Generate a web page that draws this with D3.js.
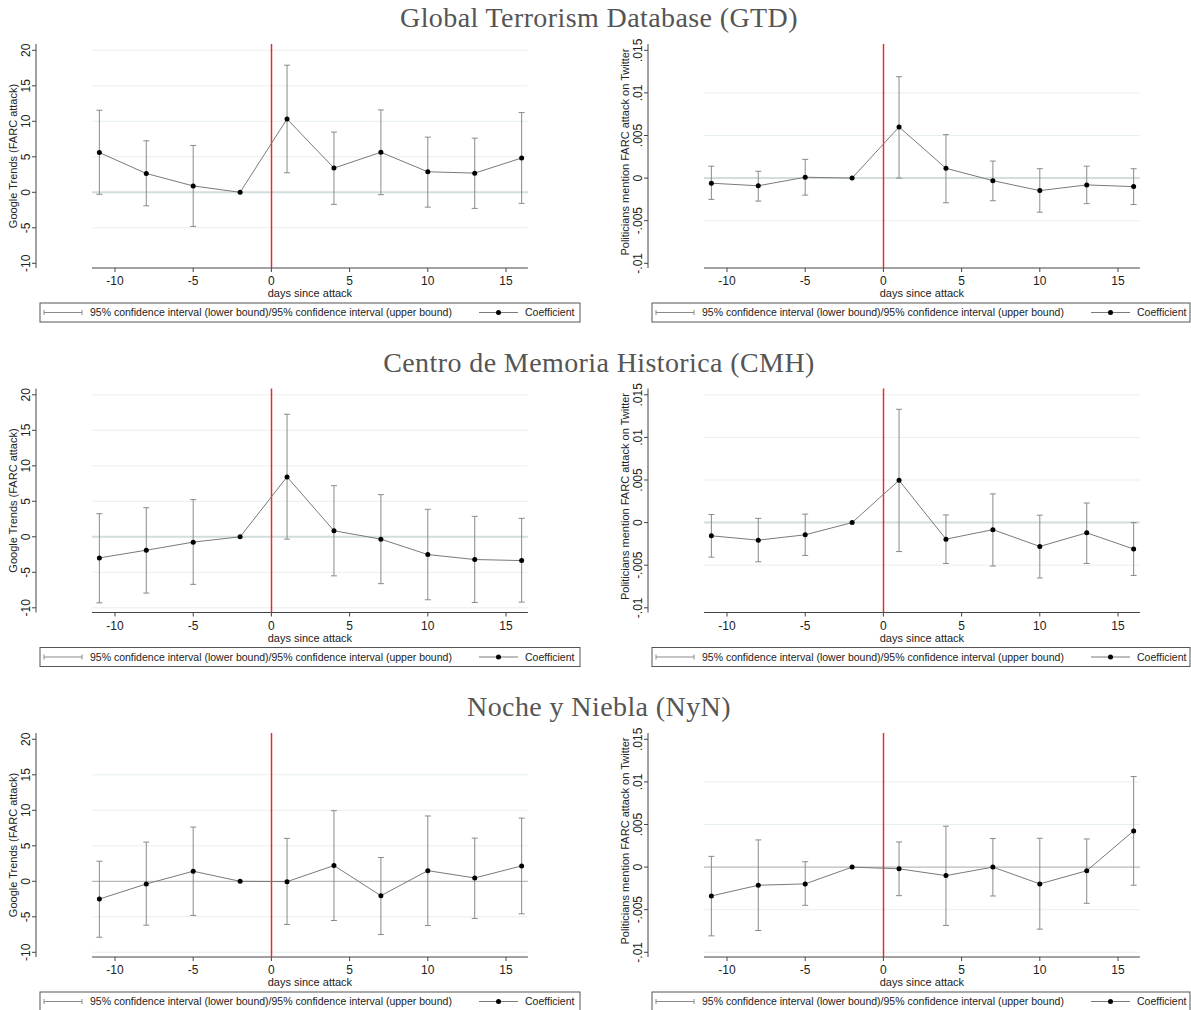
<html>
<head>
  <script src="https://d3js.org/d3.v7.min.js"></script>
  <style>
    body { margin: 0; background: white; }
    text { font-family: "Liberation Sans", Arial, sans-serif; fill: #222; }
    .rowtitle { font-family: "Liberation Serif", "DejaVu Serif", serif; fill: #555; }
  </style>
</head>
<body>
<svg id="fig" width="1191" height="1010"></svg>
<script>
// ---- data ----
const days = [-11, -8, -5, -2, 1, 4, 7, 10, 13, 16];
const rowTitles = ["Global Terrorism Database (GTD)", "Centro de Memoria Historica (CMH)", "Noche y Niebla (NyN)"];

const googleTicks = [-10, -5, 0, 5, 10, 15, 20];
const googleLabels = ["-10", "-5", "0", "5", "10", "15", "20"];
const twitterTicks = [-0.01, -0.005, 0, 0.005, 0.01, 0.015];
const twitterLabels = ["-.01", "-.005", "0", ".005", ".01", ".015"];
const xTicks = [-10, -5, 0, 5, 10, 15];

// GTD
const gtdGoogleCoef = [5.6, 2.65, 0.9, 0, 10.33, 3.41, 5.64, 2.89, 2.7, 4.83];
const gtdGoogleLo   = [-0.28, -1.9, -4.8, 0, 2.75, -1.7, -0.33, -2.09, -2.27, -1.56];
const gtdGoogleHi   = [11.56, 7.25, 6.6, 0, 17.9, 8.48, 11.6, 7.77, 7.63, 11.23];
const gtdTwitterCoef = [-0.0006, -0.0009, 0.0001, 0, 0.006, 0.00115, -0.0003, -0.00147, -0.0008, -0.001];
const gtdTwitterLo   = [-0.0025, -0.0027, -0.002, 0, 0.0, -0.0029, -0.00266, -0.004, -0.003, -0.0031];
const gtdTwitterHi   = [0.0014, 0.0008, 0.0022, 0, 0.0119, 0.0051, 0.002, 0.0011, 0.0014, 0.0011];

// CMH
const cmhGoogleCoef = [-2.97, -1.89, -0.75, 0, 8.44, 0.85, -0.33, -2.5, -3.2, -3.35];
const cmhGoogleLo   = [-9.3, -7.92, -6.7, 0, -0.33, -5.5, -6.6, -8.87, -9.25, -9.2];
const cmhGoogleHi   = [3.25, 4.1, 5.24, 0, 17.26, 7.2, 5.94, 3.87, 2.88, 2.6];
const cmhTwitterCoef = [-0.00155, -0.00206, -0.00143, 0, 0.00496, -0.00194, -0.00083, -0.0028, -0.0012, -0.0031];
const cmhTwitterLo   = [-0.00405, -0.0046, -0.00385, 0, -0.0034, -0.0048, -0.0051, -0.0065, -0.0048, -0.0062];
const cmhTwitterHi   = [0.00095, 0.0005, 0.001, 0, 0.0133, 0.0009, 0.00337, 0.00087, 0.0023, 0.0];

// NyN
const nynGoogleCoef = [-2.5, -0.38, 1.42, 0, -0.05, 2.22, -2.03, 1.5, 0.47, 2.17];
const nynGoogleLo   = [-7.88, -6.18, -4.81, 0, -6.08, -5.52, -7.5, -6.23, -5.24, -4.58];
const nynGoogleHi   = [2.83, 5.52, 7.64, 0, 6.04, 9.95, 3.35, 9.2, 6.08, 8.9];
const nynTwitterCoef = [-0.00339, -0.00213, -0.00197, 0, -0.0002, -0.001, 0, -0.00197, -0.00043, 0.00425];
const nynTwitterLo   = [-0.00807, -0.00744, -0.00449, 0, -0.00335, -0.00685, -0.00339, -0.00728, -0.00425, -0.00213];
const nynTwitterHi   = [0.00126, 0.00319, 0.00063, 0, 0.00295, 0.0048, 0.00335, 0.00339, 0.0033, 0.01063];

const panels = [
  {row: 0, col: 0, coef: gtdGoogleCoef, lo: gtdGoogleLo, hi: gtdGoogleHi, grid: [20, 15, 10, 5, -5]},
  {row: 0, col: 1, coef: gtdTwitterCoef, lo: gtdTwitterLo, hi: gtdTwitterHi, grid: [0.01, 0.005, -0.005]},
  {row: 1, col: 0, coef: cmhGoogleCoef, lo: cmhGoogleLo, hi: cmhGoogleHi, grid: [20, 15, 10, 5, -5, -10]},
  {row: 1, col: 1, coef: cmhTwitterCoef, lo: cmhTwitterLo, hi: cmhTwitterHi, grid: [0.015, 0.01, 0.005, -0.005]},
  {row: 2, col: 0, coef: nynGoogleCoef, lo: nynGoogleLo, hi: nynGoogleHi, grid: [15, 10, 5, -5, -10]},
  {row: 2, col: 1, coef: nynTwitterCoef, lo: nynTwitterLo, hi: nynTwitterHi, grid: [0.01, 0.005, -0.005, -0.01]}
];

const svg = d3.select("#fig");
const rowStep = 344.5;
const colStep = 612;

rowTitles.forEach((t, i) => {
  svg.append("text")
     .attr("class", "rowtitle")
     .attr("x", 599)
     .attr("y", 27 + i * rowStep)
     .attr("text-anchor", "middle")
     .style("font-size", "28px")
     .style("letter-spacing", "0.4px")
     .text(t);
});

panels.forEach(p => {
  const g = svg.append("g")
     .attr("transform", `translate(${p.col * colStep},${p.row * rowStep})`);
  const google = p.col === 0;
  const yTicks = google ? googleTicks : twitterTicks;
  const yLabels = google ? googleLabels : twitterLabels;

  const x = d3.scaleLinear().domain([-10, 15]).range([115, 506]);
  const y = d3.scaleLinear()
              .domain(google ? [-10, 20] : [-0.01, 0.015])
              .range([263.3, 50.3]);
  const yAxisX = 36, top = 44, bottom = 268;
  const xMin = x(-11.47), xMax = x(16.4);

  // gridlines
  g.selectAll("line.grid").data(p.grid).join("line")
   .attr("x1", xMin).attr("x2", xMax)
   .attr("y1", d => y(d)).attr("y2", d => y(d))
   .attr("stroke", "#e6eff0").attr("stroke-width", 1);

  // zero line
  g.append("line")
   .attr("x1", xMin).attr("x2", xMax)
   .attr("y1", y(0)).attr("y2", y(0))
   .attr("stroke", p.row === 2 ? "#a8a8a8" : "#d2dedd")
   .attr("stroke-width", p.row === 2 ? 1 : 2);

  // y axis
  g.append("line").attr("x1", yAxisX).attr("x2", yAxisX).attr("y1", top).attr("y2", bottom)
   .attr("stroke", "#444").attr("stroke-width", 1);
  g.selectAll("line.ytick").data(yTicks).join("line")
   .attr("x1", yAxisX - 4).attr("x2", yAxisX)
   .attr("y1", d => y(d)).attr("y2", d => y(d))
   .attr("stroke", "#444");
  g.selectAll("text.ylab").data(yTicks).join("text")
   .attr("transform", d => `translate(${yAxisX - 6},${y(d)}) rotate(-90)`)
   .attr("text-anchor", "middle")
   .style("font-size", "12px")
   .text((d, i) => yLabels[i]);
  g.append("text")
   .attr("transform", `translate(17,${google ? 156 : 152}) rotate(-90)`)
   .attr("text-anchor", "middle")
   .style("font-size", "11px")
   .text(google ? "Google Trends (FARC attack)" : "Politicians mention FARC attack on Twitter");

  // x axis
  g.append("line").attr("x1", xMin).attr("x2", xMax).attr("y1", bottom).attr("y2", bottom)
   .attr("stroke", "#444");
  g.selectAll("line.xtick").data(xTicks).join("line")
   .attr("x1", d => x(d)).attr("x2", d => x(d))
   .attr("y1", bottom).attr("y2", bottom + 4)
   .attr("stroke", "#444");
  g.selectAll("text.xlab").data(xTicks).join("text")
   .attr("x", d => x(d)).attr("y", bottom + 17)
   .attr("text-anchor", "middle")
   .style("font-size", "12px")
   .text(d => d);
  g.append("text")
   .attr("x", (xMin + xMax) / 2).attr("y", bottom + 29)
   .attr("text-anchor", "middle")
   .style("font-size", "11px")
   .text("days since attack");

  // red reference line
  g.append("line").attr("x1", Math.round(x(0)) + 0.5).attr("x2", Math.round(x(0)) + 0.5)
   .attr("y1", top).attr("y2", bottom)
   .attr("stroke", "#ec2a2e").attr("stroke-width", 1.5);

  // confidence intervals
  const ci = days.map((d, i) => ({d: d, lo: p.lo[i], hi: p.hi[i]})).filter(c => c.hi !== c.lo);
  g.selectAll("line.ci").data(ci).join("line")
   .attr("x1", c => x(c.d)).attr("x2", c => x(c.d))
   .attr("y1", c => y(c.lo)).attr("y2", c => y(c.hi))
   .attr("stroke", "#8a8a8a").attr("stroke-width", 1);
  ["lo", "hi"].forEach(k => {
    g.selectAll("line.cap" + k).data(ci).join("line")
     .attr("x1", c => x(c.d) - 3).attr("x2", c => x(c.d) + 3)
     .attr("y1", c => y(c[k])).attr("y2", c => y(c[k]))
     .attr("stroke", "#8a8a8a").attr("stroke-width", 1);
  });

  // coefficient line
  const pts = days.map((d, i) => [d, p.coef[i]]);
  g.append("path")
   .attr("d", d3.line().x(q => x(q[0])).y(q => y(q[1]))(pts))
   .attr("fill", "none").attr("stroke", "#7a7a7a").attr("stroke-width", 1);
  g.selectAll("circle.pt").data(pts).join("circle")
   .attr("cx", q => x(q[0])).attr("cy", q => y(q[1]))
   .attr("r", 2.5).attr("fill", "#000");

  // legend
  const ly = 303, lh = 19, lmid = ly + lh / 2;
  g.append("rect").attr("x", 40).attr("y", ly).attr("width", google ? 540 : 538).attr("height", lh)
   .attr("fill", "none").attr("stroke", "#555").attr("stroke-width", 1);
  g.append("line").attr("x1", 44).attr("x2", 82).attr("y1", lmid).attr("y2", lmid)
   .attr("stroke", "#8a8a8a");
  [44, 82].forEach(cx => {
    g.append("line").attr("x1", cx).attr("x2", cx).attr("y1", lmid - 2.5).attr("y2", lmid + 2.5)
     .attr("stroke", "#8a8a8a");
  });
  g.append("text").attr("x", 90).attr("y", lmid + 3.8)
   .style("font-size", "10.5px")
   .text("95% confidence interval (lower bound)/95% confidence interval (upper bound)");
  g.append("line").attr("x1", 479).attr("x2", 518).attr("y1", lmid).attr("y2", lmid)
   .attr("stroke", "#7a7a7a");
  g.append("circle").attr("cx", 498.5).attr("cy", lmid).attr("r", 2.5).attr("fill", "#000");
  g.append("text").attr("x", 525).attr("y", lmid + 3.8)
   .style("font-size", "10.5px")
   .text("Coefficient");
});
</script>
</body>
</html>
